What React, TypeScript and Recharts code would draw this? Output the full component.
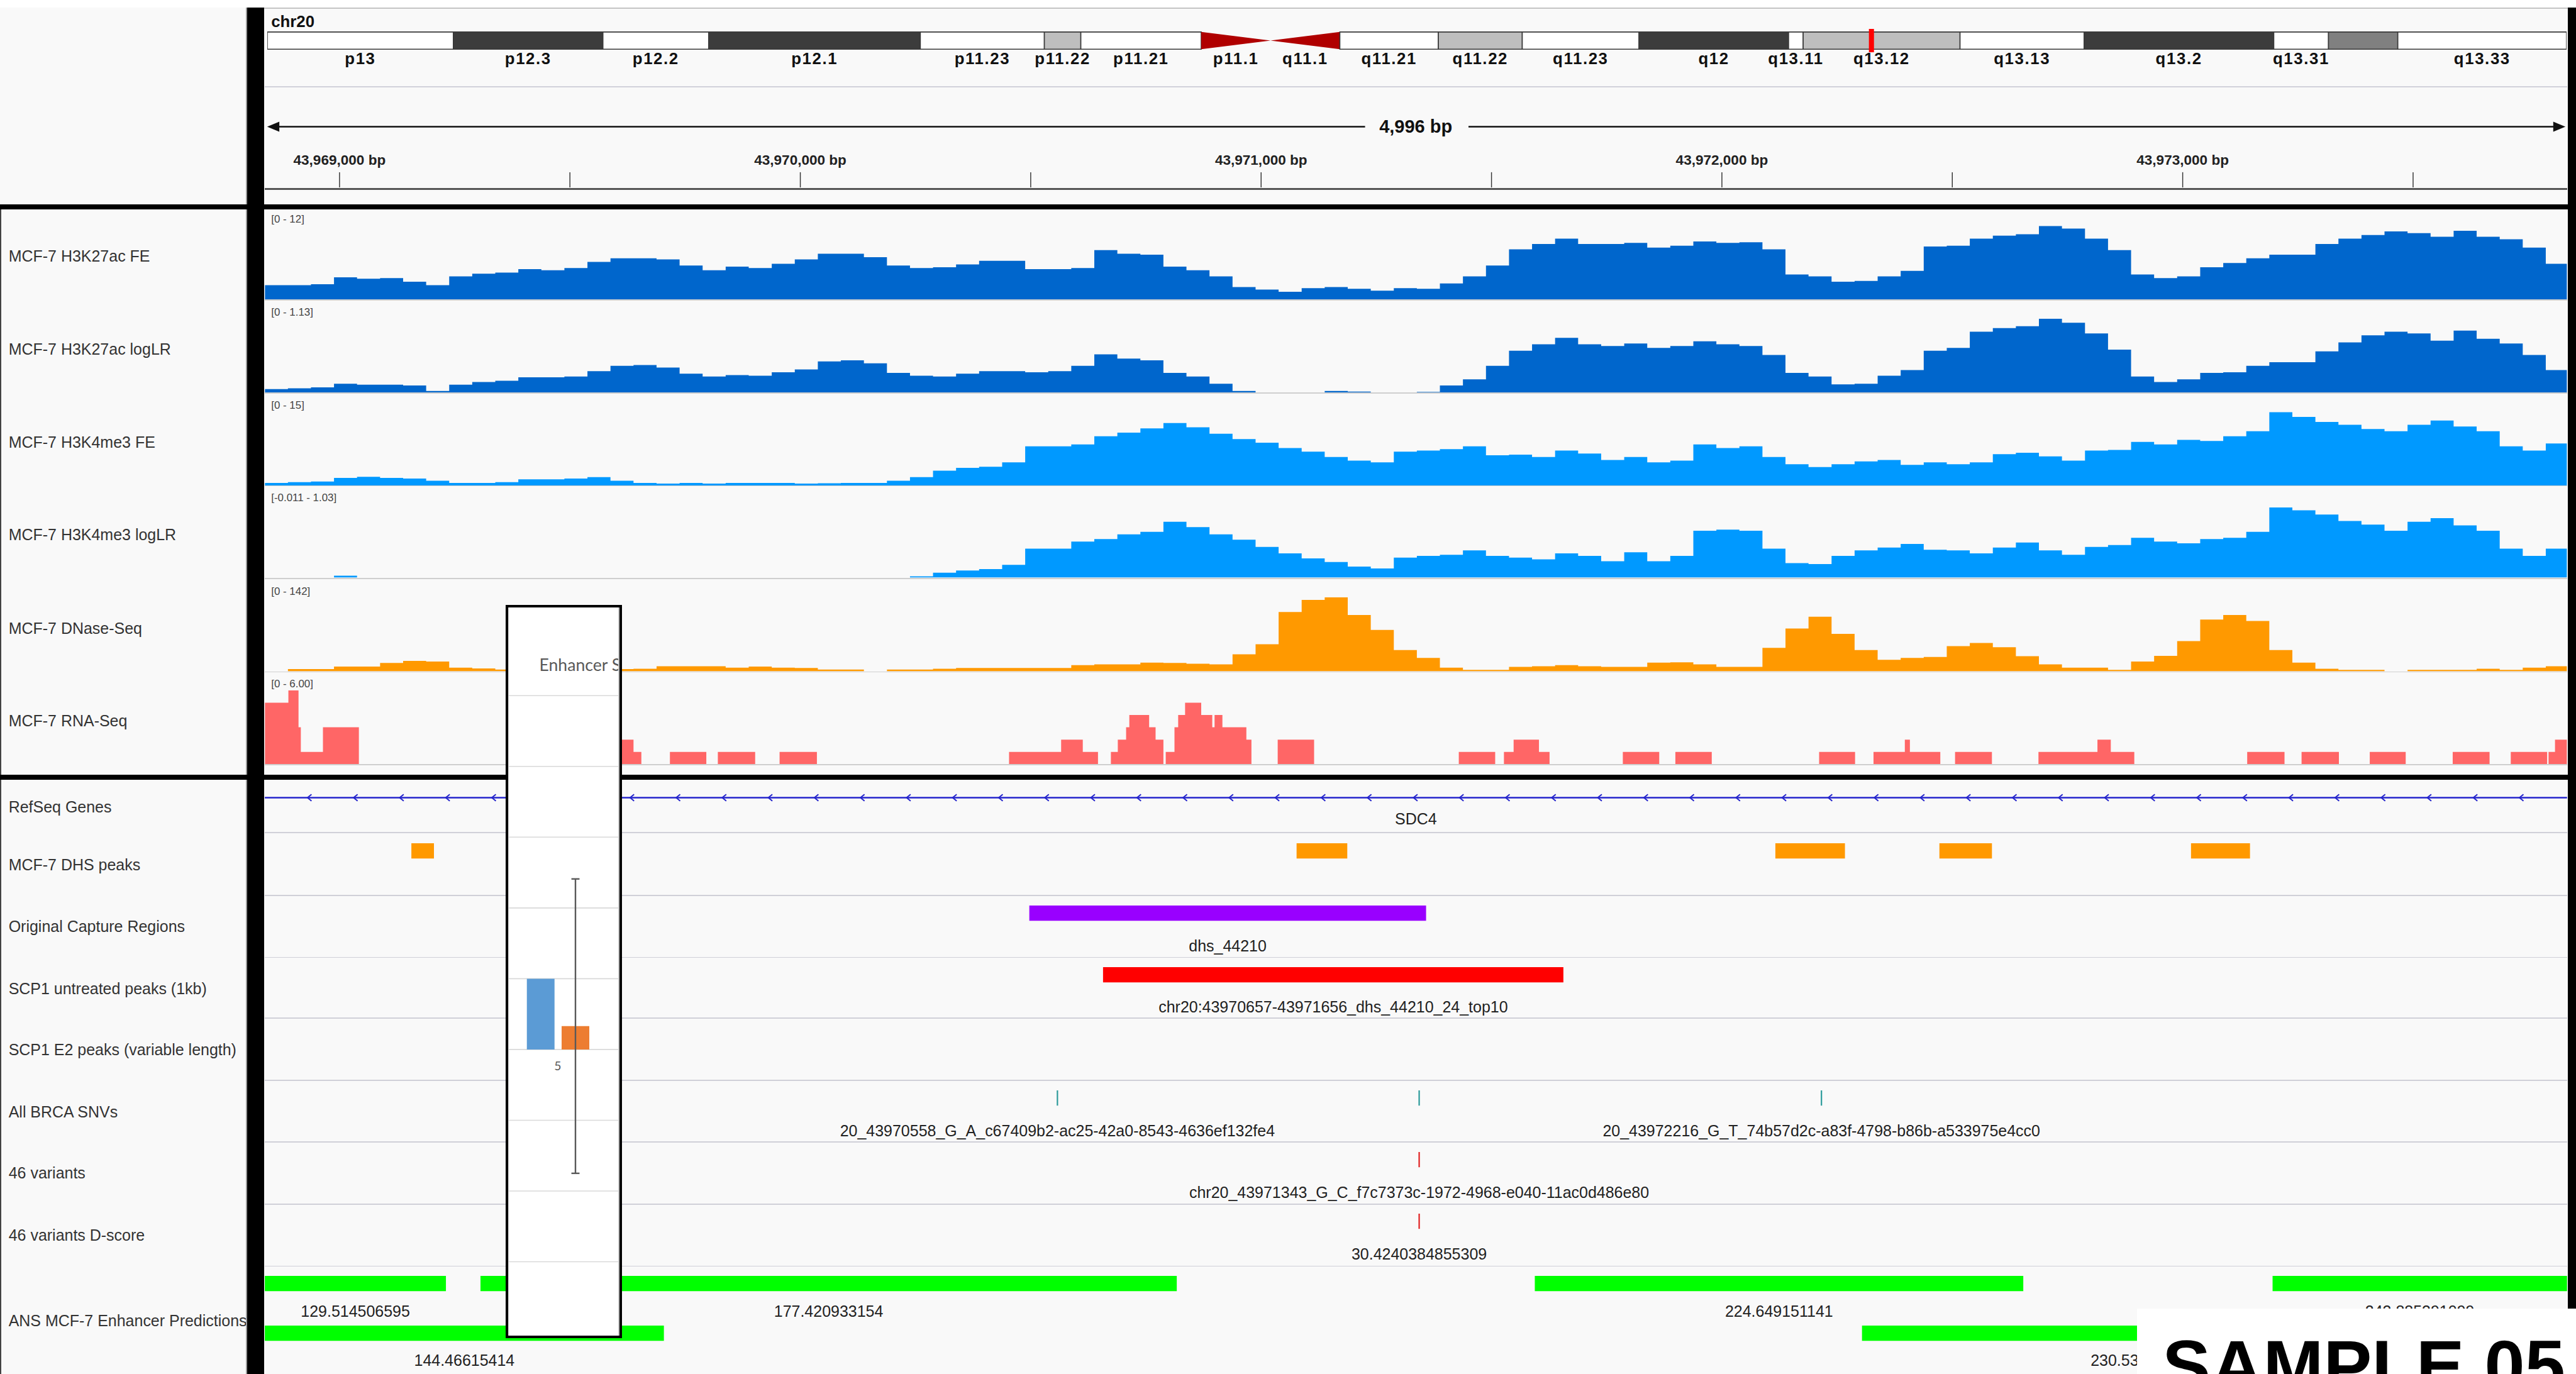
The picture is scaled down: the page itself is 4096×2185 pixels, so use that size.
import React from 'react';
import {
  AreaChart, Area, ComposedChart, BarChart, Bar, ErrorBar, XAxis, YAxis,
  CartesianGrid, ReferenceArea, ReferenceLine, ReferenceDot, Scatter,
} from 'recharts';

// ---------- scale ----------
const S = 0.806;
const p = (v: number) => v * S;
const W = 4096;
const H = 2185;
const FONT = '"Liberation Sans", Arial, Helvetica, sans-serif';

// ---------- locus ----------
const CHROM = 'chr20';
const CHROM_LENGTH = 63025520;
const VIEW_START = 43968838;
const VIEW_END = 43973834;
const VIEW_CENTER = (VIEW_START + VIEW_END) / 2;
const BIN_BP = 50;

// ---------- cytobands (hg19 chr20) ----------
const BAND_NAMES = ['p13', 'p12.3', 'p12.2', 'p12.1', 'p11.23', 'p11.22', 'p11.21', 'p11.1', 'q11.1', 'q11.21', 'q11.22', 'q11.23', 'q12', 'q13.11', 'q13.12', 'q13.13', 'q13.2', 'q13.31', 'q13.32', 'q13.33'];
const BAND_STARTS = [0, 5100000, 9200000, 12100000, 17900000, 21300000, 22300000, 25600000, 27500000, 29400000, 32100000, 34400000, 37600000, 41700000, 42100000, 46400000, 49800000, 55000000, 56500000, 58400000];
const BAND_ENDS = [5100000, 9200000, 12100000, 17900000, 21300000, 22300000, 25600000, 27500000, 29400000, 32100000, 34400000, 37600000, 41700000, 42100000, 46400000, 49800000, 55000000, 56500000, 58400000, 63025520];
const BAND_STAINS = ['gneg', 'gpos75', 'gneg', 'gpos75', 'gneg', 'gpos25', 'gneg', 'acen', 'acen', 'gneg', 'gpos25', 'gneg', 'gpos75', 'gneg', 'gpos25', 'gneg', 'gpos75', 'gneg', 'gpos50', 'gneg'];
const HIDDEN_BAND_LABELS = ['q13.32'];
const STAIN_COLORS: Record<string, string> = { gneg: '#ffffff', gpos25: '#bebebe', gpos50: '#808080', gpos75: '#3c3c3c', acen: '#b00000' };

// ---------- ruler ----------
const RULER_TICKS = [43969000, 43969500, 43970000, 43970500, 43971000, 43971500, 43972000, 43972500, 43973000, 43973500];

// ---------- signal tracks (50 bp bins) ----------
const H3K27AC_FE = [
  2.33, 2.33, 2.50, 3.61, 3.38, 3.49, 2.91, 2.33, 3.78, 4.19,
  4.37, 4.95, 4.77, 5.12, 6.11, 6.69, 6.69, 6.52, 5.53, 4.77,
  5.35, 5.12, 5.82, 6.52, 7.45, 7.45, 6.87, 5.53, 5.12, 5.24,
  5.70, 6.29, 6.29, 4.95, 4.95, 5.12, 8.03, 7.45, 7.28, 5.35,
  4.77, 3.78, 2.04, 1.63, 1.28, 1.86, 2.04, 1.75, 1.46, 1.86,
  1.75, 2.62, 3.78, 5.53, 8.15, 9.02, 9.89, 9.02, 9.02, 9.20,
  8.44, 8.73, 9.43, 9.20, 9.31, 8.15, 4.07, 3.78, 2.91, 3.03,
  3.78, 4.66, 8.61, 8.73, 9.89, 10.36, 10.59, 11.93, 11.52, 9.89,
  8.03, 4.07, 3.49, 3.78, 5.24, 5.94, 6.69, 7.28, 7.28, 9.02,
  9.89, 10.48, 11.06, 10.77, 10.19, 11.17, 10.19, 9.78, 8.44, 5.82,
  5.12,
];
const H3K27AC_LOGLR = [
  0.055, 0.066, 0.082, 0.137, 0.121, 0.121, 0.110, 0.027, 0.121, 0.164,
  0.181, 0.236, 0.236, 0.247, 0.329, 0.411, 0.422, 0.384, 0.290, 0.247,
  0.269, 0.258, 0.312, 0.356, 0.477, 0.493, 0.449, 0.301, 0.258, 0.247,
  0.290, 0.329, 0.329, 0.312, 0.329, 0.411, 0.586, 0.521, 0.493, 0.301,
  0.247, 0.137, 0.027, 0, 0, 0, 0.027, 0.016, 0, 0,
  0.011, 0.110, 0.203, 0.411, 0.641, 0.740, 0.838, 0.740, 0.712, 0.751,
  0.685, 0.712, 0.784, 0.740, 0.712, 0.575, 0.301, 0.247, 0.126, 0.137,
  0.258, 0.345, 0.641, 0.685, 0.932, 0.986, 1.014, 1.13, 1.069, 0.904,
  0.658, 0.247, 0.164, 0.203, 0.301, 0.312, 0.411, 0.466, 0.466, 0.630,
  0.767, 0.877, 0.932, 0.904, 0.795, 0.948, 0.822, 0.751, 0.575, 0.345,
  0.247,
];
const H3K4ME3_FE = [
  0.58, 0.73, 0.87, 1.60, 1.82, 1.60, 1.45, 1.02, 0.58, 0.58,
  0.73, 1.31, 1.31, 1.45, 1.74, 1.02, 0.58, 0.44, 0.58, 0.44,
  0.58, 0.58, 0.58, 0.44, 0.51, 0.58, 0.58, 1.02, 1.74, 3.05,
  3.64, 3.85, 4.73, 8.00, 8.00, 8.36, 10.03, 10.76, 11.63, 12.72,
  11.85, 10.54, 9.45, 8.72, 7.63, 6.91, 5.82, 5.09, 4.73, 6.91,
  7.12, 7.42, 8.00, 6.18, 6.32, 5.82, 7.12, 6.54, 5.23, 5.82,
  4.73, 5.09, 8.36, 7.63, 8.00, 5.82, 4.36, 3.78, 4.36, 4.94,
  5.23, 4.22, 4.73, 4.36, 4.73, 6.40, 6.69, 5.96, 5.09, 7.12,
  7.27, 8.87, 8.36, 9.31, 9.09, 10.03, 11.05, 14.90, 13.96, 12.94,
  12.36, 11.49, 11.05, 12.36, 13.23, 12.00, 11.05, 8.00, 7.12, 8.58,
  9.09,
];
const H3K4ME3_LOGLR = [
  0, 0, 0, 0.025, 0, 0, 0, 0, 0, 0,
  0, 0, 0, 0, 0, 0, 0, 0, 0, 0,
  0, 0, 0, 0, 0, 0, 0, 0, 0.015, 0.066,
  0.096, 0.116, 0.177, 0.404, 0.404, 0.505, 0.540, 0.606, 0.641, 0.783,
  0.707, 0.606, 0.530, 0.429, 0.338, 0.268, 0.217, 0.152, 0.126, 0.278,
  0.303, 0.318, 0.379, 0.303, 0.278, 0.253, 0.338, 0.303, 0.227, 0.354,
  0.227, 0.303, 0.657, 0.672, 0.657, 0.404, 0.202, 0.187, 0.303, 0.379,
  0.419, 0.470, 0.389, 0.379, 0.338, 0.419, 0.490, 0.379, 0.318, 0.429,
  0.455, 0.556, 0.505, 0.480, 0.540, 0.556, 0.641, 0.985, 0.944, 0.884,
  0.793, 0.742, 0.657, 0.783, 0.833, 0.732, 0.657, 0.404, 0.303, 0.404,
  0.429,
];
const DNASE = [
  0, 4.1, 4.1, 9.0, 9.0, 15.8, 20.0, 18.6, 6.9, 5.5,
  3.4, 3.4, 3.4, 4.1, 4.1, 4.1, 4.8, 9.6, 9.6, 9.6,
  6.9, 9.0, 6.9, 6.2, 3.4, 3.4, 0, 3.4, 3.4, 4.8,
  6.2, 6.2, 6.2, 6.2, 6.2, 11.7, 13.1, 13.1, 16.5, 15.8,
  14.5, 13.1, 32.4, 51.7, 113.6, 137.0, 142, 108.1, 79.2, 40.6,
  25.5, 6.9, 2.8, 2.8, 8.3, 9.6, 11.7, 9.6, 8.3, 8.3,
  16.5, 17.2, 13.1, 8.3, 8.3, 44.8, 82.0, 104.7, 71.6, 40.6,
  22.0, 25.5, 27.5, 48.2, 54.4, 46.1, 28.9, 13.1, 6.9, 6.9,
  2.8, 18.6, 29.6, 57.9, 99.2, 108.1, 96.4, 40.6, 16.5, 4.8,
  2.8, 2.8, 0, 2.8, 2.8, 2.8, 4.8, 2.8, 6.9, 9.6,
  13.1,
];
// RNA-Seq coverage blocks: [start, end, value]
const RNA_BLOCKS: number[][] = [
  [43968838, 43968889, 5], [43968889, 43968911, 6], [43968911, 43968916, 3], [43968916, 43968964, 1],
  [43968964, 43969042, 3], [43969600, 43969638, 2], [43969638, 43969655, 1], [43969717, 43969796, 1],
  [43969821, 43969902, 1], [43969955, 43970036, 1], [43970453, 43970566, 1], [43970566, 43970613, 2],
  [43970613, 43970646, 1], [43970674, 43970689, 1], [43970689, 43970707, 2], [43970707, 43970714, 3],
  [43970714, 43970757, 4], [43970757, 43970771, 3], [43970771, 43970788, 2], [43970793, 43970812, 1],
  [43970812, 43970820, 3], [43970820, 43970835, 4], [43970835, 43970870, 5], [43970870, 43970894, 4],
  [43970894, 43970899, 3], [43970899, 43970916, 4], [43970916, 43970968, 3], [43970968, 43970979, 2],
  [43971036, 43971115, 2], [43971429, 43971508, 1], [43971527, 43971548, 1], [43971548, 43971603, 2],
  [43971603, 43971626, 1], [43971785, 43971864, 1], [43971899, 43971978, 1], [43972211, 43972289, 1],
  [43972329, 43972397, 1], [43972397, 43972408, 2], [43972408, 43972474, 1], [43972506, 43972586, 1],
  [43972687, 43972815, 1], [43972815, 43972844, 2], [43972844, 43972895, 1], [43973140, 43973221, 1],
  [43973258, 43973339, 1], [43973406, 43973484, 1], [43973586, 43973666, 1], [43973712, 43973791, 1],
  [43973794, 43973808, 1], [43973808, 43973834, 2],
];

// ---------- feature tracks ----------
const GENE_NAME = 'SDC4';
const GENE_START = 43953928;
const GENE_END = 43977064;
const DHS_PEAKS: number[][] = [[43969156, 43969205], [43971077, 43971187], [43972116, 43972267], [43972472, 43972586], [43973018, 43973146]];
const CAPTURE_REGIONS = [{ start: 43970497, end: 43971358, name: 'dhs_44210' }];
const SCP1_UNTREATED = [{ start: 43970657, end: 43971656, name: 'chr20:43970657-43971656_dhs_44210_24_top10' }];
const BRCA_SNVS = [
  { pos: 43970558, name: '20_43970558_G_A_c67409b2-ac25-42a0-8543-4636ef132fe4' },
  { pos: 43971343, name: '' },
  { pos: 43972216, name: '20_43972216_G_T_74b57d2c-a83f-4798-b86b-a533975e4cc0' },
];
const VARIANTS_46 = [{ pos: 43971343, name: 'chr20_43971343_G_C_f7c7373c-1972-4968-e040-11ac0d486e80' }];
const VARIANTS_DSCORE = [{ pos: 43971343, name: '30.4240384855309' }];
const ANS_LANE1 = [
  { start: 43968838, end: 43969231, name: '129.514506595' },
  { start: 43969306, end: 43970817, name: '177.420933154' },
  { start: 43971594, end: 43972654, name: '224.649151141' },
  { start: 43973195, end: 43973834, name: '243.885391099' },
];
const ANS_LANE2 = [
  { start: 43968838, end: 43969704, name: '144.46615414' },
  { start: 43972304, end: 43973533, name: '230.534123961' },
];

// ---------- inset chart ----------
const ENH_CATEGORIES = ['5'];
const ENH_SERIES_1 = [1.0];
const ENH_SERIES_2 = [0.33];
const ENH_SERIES_2_ERR = [2.08];
const ENH_TICKS = [-3, -2, -1, 0, 1, 2, 3, 4, 5];

// ---------- labels ----------
const UPPER_LABELS = ['MCF-7 H3K27ac FE', 'MCF-7 H3K27ac logLR', 'MCF-7 H3K4me3 FE', 'MCF-7 H3K4me3 logLR', 'MCF-7 DNase-Seq', 'MCF-7 RNA-Seq'];
const UPPER_RANGES = ['[0 - 12]', '[0 - 1.13]', '[0 - 15]', '[-0.011 - 1.03]', '[0 - 142]', '[0 - 6.00]'];
const LOWER_LABELS = ['RefSeq Genes', 'MCF-7 DHS peaks', 'Original Capture Regions', 'SCP1 untreated peaks (1kb)', 'SCP1 E2 peaks (variable length)', 'All BRCA SNVs', '46 variants', '46 variants D-score', 'ANS MCF-7 Enhancer Predictions'];

// ---------- layout (reference pixels) ----------
const DATA_L = 522;
const DATA_W = 4542;
const TRACK_TOPS = [413, 597, 780, 963, 1147, 1330];
const TRACK_H = 178;
const TRACK_PAD = 32;
const LOWER_LABEL_Y = [1592, 1706, 1828, 1950, 2071, 2193, 2314, 2437, 2605];
const ROW_SEPARATORS = [1643, 1767, 1889, 2009, 2131, 2253, 2376, 2498];

const Label = ({ x, y, text, size, color = '#333', weight = 'normal' }: any) => (
  <div style={{ position: 'absolute', left: p(x), top: p(y), transform: 'translateY(-50%)', fontSize: p(size), lineHeight: 1, color, fontWeight: weight, whiteSpace: 'nowrap', fontFamily: FONT }}>{text}</div>
);

const Rect = ({ x, y, w, h, c }: any) => (
  <div style={{ position: 'absolute', left: p(x), top: p(y), width: p(w), height: p(h), background: c }} />
);

const NoShape = () => <g />;

function SignalTrack({ top, values, color, domain }: any) {
  const data = values.map((v: number, i: number) => ({ pos: Math.min(VIEW_START + i * BIN_BP, VIEW_END), v }));
  return (
    <div style={{ position: 'absolute', left: p(DATA_L), top: p(top), width: p(DATA_W), height: p(TRACK_H) }}>
      <AreaChart width={p(DATA_W)} height={p(TRACK_H)} data={data} margin={{ top: p(TRACK_PAD), right: 0, bottom: 0, left: 0 }}>
        <XAxis type="number" dataKey="pos" domain={[VIEW_START, VIEW_END]} hide allowDataOverflow />
        <YAxis type="number" domain={domain} hide allowDataOverflow />
        <Area type="stepAfter" dataKey="v" stroke="none" fill={color} fillOpacity={1} baseValue={0} isAnimationActive={false} dot={false} activeDot={false} />
      </AreaChart>
    </div>
  );
}

function RnaTrack({ top }: any) {
  const data: any[] = [];
  RNA_BLOCKS.forEach(([s, e, v]) => {
    data.push({ pos: s, v });
    data.push({ pos: e, v: 0 });
  });
  return (
    <div style={{ position: 'absolute', left: p(DATA_L), top: p(top), width: p(DATA_W), height: p(TRACK_H) }}>
      <AreaChart width={p(DATA_W)} height={p(TRACK_H)} data={data} margin={{ top: p(TRACK_PAD), right: 0, bottom: 0, left: 0 }}>
        <XAxis type="number" dataKey="pos" domain={[VIEW_START, VIEW_END]} hide allowDataOverflow />
        <YAxis type="number" domain={[0, 6]} hide allowDataOverflow />
        <Area type="stepAfter" dataKey="v" stroke="none" fill="#ff6666" fillOpacity={1} baseValue={0} isAnimationActive={false} dot={false} activeDot={false} />
      </AreaChart>
    </div>
  );
}

function FeatureRow({ top, items, color, gap = 40, bandH = 30 }: any) {
  const space = 75;
  const h = bandH + space;
  const data = items.map((f: any) => ({ pos: Math.max(f.start, VIEW_START), y: 0.5 }));
  return (
    <div style={{ position: 'absolute', left: p(DATA_L), top: p(top), width: p(DATA_W), height: p(h) }}>
      <ComposedChart width={p(DATA_W)} height={p(h)} data={data} margin={{ top: 0, right: 0, bottom: p(space), left: 0 }}>
        <XAxis type="number" dataKey="pos" domain={[VIEW_START, VIEW_END]} hide allowDataOverflow />
        <YAxis type="number" dataKey="y" domain={[0, 1]} hide />
        <Scatter data={data} dataKey="y" isAnimationActive={false} shape={NoShape} />
        {items.map((f: any, i: number) => (
          <ReferenceArea
            key={i}
            x1={Math.max(f.start, VIEW_START)}
            x2={Math.min(f.end, VIEW_END)}
            y1={0}
            y2={1}
            fill={color}
            fillOpacity={1}
            stroke="none"
            ifOverflow="visible"
            label={f.name ? { value: f.name, position: 'bottom', offset: p(gap), fill: '#222', fontSize: p(31), fontFamily: FONT } : undefined}
          />
        ))}
      </ComposedChart>
    </div>
  );
}

const GENE_COLOR = '#2525cc';
const Chevron = (props: any) => {
  const { cx, cy } = props;
  const w = p(4);
  const h = p(6.5);
  return <polyline points={`${cx + w},${cy - h} ${cx - w},${cy} ${cx + w},${cy + h}`} fill="none" stroke={GENE_COLOR} strokeWidth={p(2.5)} />;
};

function RefSeqRow() {
  const top = 1566;
  const bandH = 16;
  const space = 75;
  const chevrons: any[] = [];
  for (let x = VIEW_START + 97; x < VIEW_END; x += 100) chevrons.push({ pos: x, y: 0.5 });
  return (
    <div style={{ position: 'absolute', left: p(DATA_L), top: p(top), width: p(DATA_W), height: p(bandH + space) }}>
      <ComposedChart width={p(DATA_W)} height={p(bandH + space)} data={chevrons} margin={{ top: 0, right: 0, bottom: p(space), left: 0 }}>
        <XAxis type="number" dataKey="pos" domain={[VIEW_START, VIEW_END]} hide allowDataOverflow />
        <YAxis type="number" dataKey="y" domain={[0, 1]} hide />
        <ReferenceArea
          x1={Math.max(GENE_START, VIEW_START)}
          x2={Math.min(GENE_END, VIEW_END)}
          y1={0.4}
          y2={0.6}
          fill={GENE_COLOR}
          fillOpacity={1}
          stroke="none"
          label={{ value: GENE_NAME, position: 'bottom', offset: p(29), fill: '#222', fontSize: p(31), fontFamily: FONT }}
        />
        <Scatter data={chevrons} dataKey="y" fill={GENE_COLOR} isAnimationActive={false} shape={Chevron} />
      </ComposedChart>
    </div>
  );
}

const Centromere = (props: any) => {
  const { x, y, width, height, fill, pArm } = props;
  const pts = pArm
    ? `${x},${y} ${x},${y + height} ${x + width},${y + height / 2}`
    : `${x + width},${y} ${x + width},${y + height} ${x},${y + height / 2}`;
  return <polygon points={pts} fill={fill} />;
};

function Ideogram() {
  const bands = BAND_NAMES.map((name, i) => ({ name, start: BAND_STARTS[i], end: BAND_ENDS[i], stain: BAND_STAINS[i] }));
  const plotTop = 57;
  const plotH = 46;
  const space = 50;
  const left = 527;
  const width = 4536;
  const data = bands.map((b) => ({ pos: b.start, y: 0.5 }));
  return (
    <div style={{ position: 'absolute', left: p(left), top: p(plotTop), width: p(width), height: p(plotH + space) }}>
      <ComposedChart width={p(width)} height={p(plotH + space)} data={data} margin={{ top: 0, right: 0, bottom: p(space), left: 0 }}>
        <XAxis type="number" dataKey="pos" domain={[0, CHROM_LENGTH]} hide />
        <YAxis type="number" dataKey="y" domain={[-6 / 34, 1 + 6 / 34]} hide />
        <Scatter data={data} dataKey="y" isAnimationActive={false} shape={NoShape} />
        {bands.map((b) => (
          <ReferenceArea
            key={b.name}
            x1={b.start}
            x2={b.end}
            y1={0}
            y2={1}
            fill={STAIN_COLORS[b.stain]}
            fillOpacity={1}
            stroke={b.stain === 'acen' ? 'none' : '#3a3a3a'}
            strokeWidth={p(2)}
            shape={b.stain === 'acen' ? (props: any) => <Centromere {...props} fill={STAIN_COLORS.acen} pArm={b.name.startsWith('p')} /> : undefined}
            label={HIDDEN_BAND_LABELS.includes(b.name) ? undefined : { value: b.name, position: 'bottom', offset: p(7), fill: '#111', fontSize: p(32), fontWeight: 'bold', letterSpacing: p(2), fontFamily: FONT }}
          />
        ))}
        <ReferenceLine x={VIEW_CENTER} stroke="#ff0000" strokeWidth={p(10)} />
      </ComposedChart>
    </div>
  );
}

const RulerTick = (props: any) => {
  const { x, y, payload } = props;
  const v = payload.value as number;
  return (
    <g>
      <line x1={x} x2={x} y1={y - p(30)} y2={y} stroke="#333" strokeWidth={p(1.8)} />
      {v % 1000 === 0 && (
        <text x={x} y={y - p(54)} textAnchor="middle" dominantBaseline="central" fontSize={p(28)} fontWeight="bold" fill="#222" fontFamily={FONT}>
          {`${v.toLocaleString('en-US')} bp`}
        </text>
      )}
    </g>
  );
};

function Ruler() {
  const top = 190;
  const h = 183;
  return (
    <div style={{ position: 'absolute', left: p(DATA_L), top: p(top), width: p(DATA_W), height: p(h) }}>
      <ComposedChart width={p(DATA_W)} height={p(h)} data={RULER_TICKS.map((t) => ({ pos: t }))} margin={{ top: 0, right: 0, bottom: 0, left: 0 }}>
        <XAxis type="number" dataKey="pos" domain={[VIEW_START, VIEW_END]} ticks={RULER_TICKS} interval={0} tickSize={0} tickMargin={0} axisLine={false} tickLine={false} height={p(3)} tick={RulerTick} allowDataOverflow />
        <YAxis type="number" domain={[0, 1]} hide />
      </ComposedChart>
    </div>
  );
}

function EnhancerInset() {
  const data = ENH_CATEGORIES.map((c, i) => ({ cat: c, a: ENH_SERIES_1[i], b: ENH_SERIES_2[i], err: ENH_SERIES_2_ERR[i] }));
  const boxL = 997, boxT = 1194, boxW = 230, boxH = 1446, bw = 5;
  const innerW = boxW - 2 * bw;
  const innerH = boxH - 2 * bw;
  const chartL = 950 - (boxL + bw);
  return (
    <div style={{ position: 'absolute', left: p(boxL), top: p(boxT), width: p(boxW), height: p(boxH), background: '#000' }}>
      <div style={{ position: 'absolute', left: p(bw), top: p(bw), width: p(innerW), height: p(innerH), background: '#fff', overflow: 'hidden' }}>
        <div style={{ position: 'absolute', left: p(chartL), top: 0, width: p(300), height: p(innerH) }}>
          <BarChart width={p(300)} height={p(innerH)} data={data} margin={{ top: p(174), right: 0, bottom: p(145), left: 0 }} barCategoryGap={p(89)} barGap={p(14)}>
            <CartesianGrid horizontal vertical={false} stroke="#d9d9d9" strokeWidth={p(2)} />
            <XAxis dataKey="cat" type="category" hide />
            <YAxis type="number" domain={[-3, 5]} ticks={ENH_TICKS} hide />
            <Bar dataKey="a" fill="#5b9bd5" isAnimationActive={false} />
            <Bar dataKey="b" fill="#ed7d31" isAnimationActive={false}>
              <ErrorBar dataKey="err" width={p(8)} strokeWidth={p(3)} stroke="#595959" direction="y" />
            </Bar>
            <ReferenceDot x="5" y={0} r={0} fill="none" stroke="none" label={{ value: '5', position: 'bottom', offset: p(24), fill: '#595959', fontSize: p(24), fontFamily: 'Lato' }} />
          </BarChart>
        </div>
        <div style={{ position: 'absolute', left: p(62), top: p(113), transform: 'translateY(-50%)', fontSize: p(33), lineHeight: 1, color: '#595959', fontFamily: 'Lato, "Open Sans", sans-serif', whiteSpace: 'nowrap' }}>Enhancer Score</div>
        <div style={{ position: 'absolute', left: 0, top: 0, width: p(2), height: p(innerH), background: '#d4d4d4' }} />
        <div style={{ position: 'absolute', right: 0, top: 0, width: p(2), height: p(innerH), background: '#c8c8c8' }} />
      </div>
    </div>
  );
}

export default function App() {
  const spanText = `${(VIEW_END - VIEW_START).toLocaleString('en-US')} bp`;
  const midX = DATA_L + DATA_W / 2;
  return (
    <div style={{ position: 'absolute', left: 0, top: 0, width: W, height: H, overflow: 'hidden', background: '#ffffff', fontFamily: FONT }}>
      {/* panel background */}
      <div style={{ position: 'absolute', left: 0, top: p(15), width: W, height: H - p(15), background: '#f9f9f9' }} />
      <Rect x={486} y={15} w={4600} h={2} c="#c4c4c4" />

      {/* header: chromosome name, ideogram, ruler */}
      <Ideogram />
      <Rect x={522} y={170} w={DATA_W} h={2.5} c="#d2d2da" />
      <svg style={{ position: 'absolute', left: 0, top: 0 }} width={W} height={p(330)}>
        <text x={p(535)} y={p(42)} dominantBaseline="central" fontSize={p(32)} fontWeight="bold" fill="#111" fontFamily={FONT}>{CHROM}</text>
        <line x1={p(540)} x2={p(midX - 100)} y1={p(250)} y2={p(250)} stroke="#111" strokeWidth={p(3)} />
        <line x1={p(midX + 104)} x2={p(5045)} y1={p(250)} y2={p(250)} stroke="#111" strokeWidth={p(3)} />
        <polygon points={`${p(527)},${p(250)} ${p(551)},${p(240)} ${p(551)},${p(260)}`} fill="#111" />
        <polygon points={`${p(5061)},${p(250)} ${p(5037)},${p(240)} ${p(5037)},${p(260)}`} fill="#111" />
        <text x={p(midX)} y={p(249)} textAnchor="middle" dominantBaseline="central" fontSize={p(36)} fontWeight="bold" fill="#111" fontFamily={FONT}>{spanText}</text>
      </svg>
      <Ruler />
      <Rect x={522} y={371} w={DATA_W} h={3.5} c="#555" />

      {/* signal tracks */}
      <SignalTrack top={TRACK_TOPS[0]} values={H3K27AC_FE} color="#0066cc" domain={[0, 12]} />
      <SignalTrack top={TRACK_TOPS[1]} values={H3K27AC_LOGLR} color="#0066cc" domain={[0, 1.13]} />
      <SignalTrack top={TRACK_TOPS[2]} values={H3K4ME3_FE} color="#0099ff" domain={[0, 15]} />
      <SignalTrack top={TRACK_TOPS[3]} values={H3K4ME3_LOGLR} color="#0099ff" domain={[-0.011, 1.03]} />
      <SignalTrack top={TRACK_TOPS[4]} values={DNASE} color="#ff9900" domain={[0, 142]} />
      <RnaTrack top={TRACK_TOPS[5]} />
      {TRACK_TOPS.map((t, i) => (
        <React.Fragment key={i}>
          <Rect x={DATA_L} y={t + TRACK_H - 0.5} w={DATA_W} h={2} c="#cfcfcf" />
          <Label x={535} y={t + 20} text={UPPER_RANGES[i]} size={21} color="#444" />
          <Label x={17} y={t + 92} text={UPPER_LABELS[i]} size={31} />
        </React.Fragment>
      ))}

      {/* feature tracks */}
      {ROW_SEPARATORS.map((y, i) => (
        <Rect key={i} x={DATA_L} y={y - 1} w={DATA_W} h={2.2} c="#d0d0d8" />
      ))}
      <RefSeqRow />
      <FeatureRow top={1664} items={DHS_PEAKS.map(([s, e]) => ({ start: s, end: e, name: '' }))} color="#ff9900" />
      <FeatureRow top={1786} items={CAPTURE_REGIONS} color="#9900ff" gap={38} />
      <FeatureRow top={1908} items={SCP1_UNTREATED} color="#ff0000" gap={37} />
      <FeatureRow top={2151} items={BRCA_SNVS.map((v) => ({ start: v.pos - 1.5, end: v.pos + 1.5, name: v.name }))} color="#2a9a9a" gap={38} />
      <FeatureRow top={2273} items={VARIANTS_46.map((v) => ({ start: v.pos - 1.5, end: v.pos + 1.5, name: v.name }))} color="#e02020" gap={39} />
      <FeatureRow top={2395} items={VARIANTS_DSCORE.map((v) => ({ start: v.pos - 1.5, end: v.pos + 1.5, name: v.name }))} color="#e02020" gap={39} />
      <FeatureRow top={2517} items={ANS_LANE1} color="#00ff00" gap={29} />
      <FeatureRow top={2615} items={ANS_LANE2} color="#00ff00" gap={27} />
      {LOWER_LABELS.map((t, i) => (
        <Label key={i} x={17} y={LOWER_LABEL_Y[i]} text={t} size={31} />
      ))}

      {/* frame */}
      <Rect x={0} y={411} w={3} h={2400} c="#444" />
      <Rect x={485.5} y={15} w={2} h={2700} c="#9a9a9a" />
      <Rect x={488} y={15} w={33} h={2700} c="#000" />
      <Rect x={5066} y={15} w={20} h={2567} c="#000" />
      <Rect x={0} y={403} w={5100} h={10} c="#000" />
      <Rect x={0} y={1528} w={5100} h={10} c="#000" />

      <EnhancerInset />

      {/* sample tag */}
      <div style={{ position: 'absolute', left: p(4216), top: p(2582), width: W - p(4216), height: H - p(2582), background: '#fff', overflow: 'hidden' }}>
        <svg width={W - p(4216)} height={H - p(2582)} style={{ position: 'absolute', left: 0, top: 0 }}>
          <text x={p(4266 - 4216)} y={p(2745 - 2582)} fontSize={p(143)} fontWeight="bold" fill="#000" fontFamily={FONT}>SAMPLE 05</text>
        </svg>
      </div>
    </div>
  );
}
